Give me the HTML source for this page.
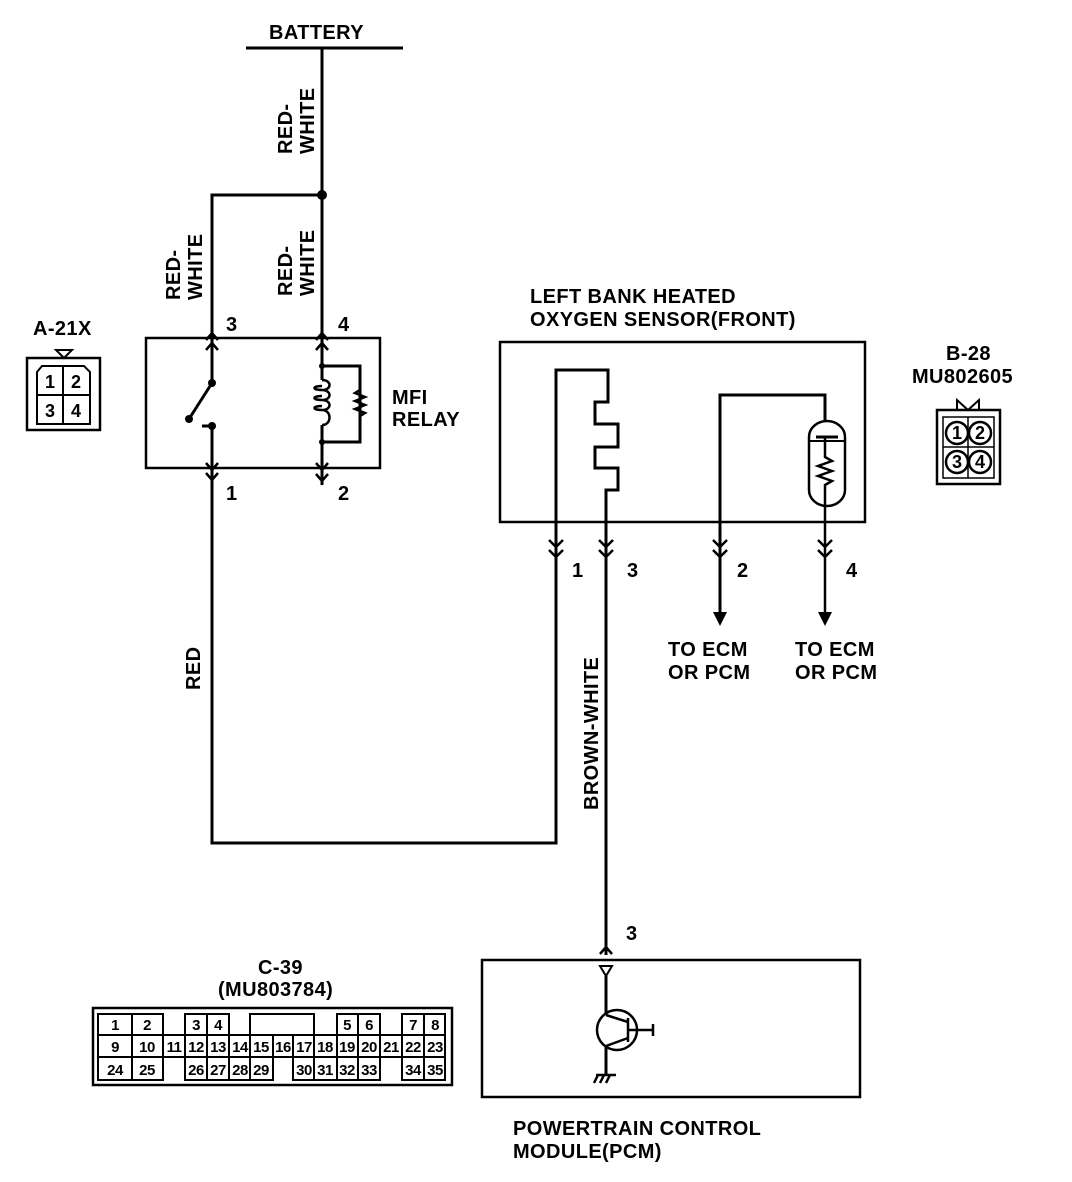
<!DOCTYPE html>
<html><head><meta charset="utf-8"><style>body{margin:0;background:#fff}svg{display:block}</style></head><body>
<svg width="1072" height="1182" viewBox="0 0 1072 1182" xmlns="http://www.w3.org/2000/svg" font-family="Liberation Sans, Arial, sans-serif" font-size="19" fill="#000">
<g stroke="#000" stroke-width="3" fill="none">
<line x1="246" y1="48" x2="403" y2="48"/>
<line x1="322" y1="48" x2="322" y2="338"/>
<polyline points="322,195 212,195 212,338"/>
<rect x="146" y="338" width="234" height="130" stroke-width="2.5"/>
<line x1="212" y1="338" x2="212" y2="383"/>
<line x1="212" y1="383" x2="189" y2="419"/>
<line x1="212" y1="426" x2="212" y2="468"/>
<line x1="202" y1="426" x2="212" y2="426"/>
<line x1="322" y1="338" x2="322" y2="380"/>
<line x1="322" y1="425" x2="322" y2="468"/>
<polyline points="322,366 360,366 360,442 322,442"/>
<path d="M322,380 c10,0 10,10 0,10 c-10,0 -10,-4 0,-4 M322,390 c10,0 10,10 0,10 c-10,0 -10,-4 0,-4 M322,400 c10,0 10,10 0,10 c-10,0 -10,-4 0,-4 M322,410 c10,0 10,15 0,15" stroke-width="2.5"/>
<polyline points="360,390 355,393 365,397 355,401 365,405 355,409 365,413 360,416" stroke-width="2.5"/>
<path d="M206,340 L212,333 L218,340 M206,350 L212,343 L218,350 M316,340 L322,333 L328,340 M316,350 L322,343 L328,350" stroke-width="2.5"/>
<path d="M206,463 L212,470 L218,463 M206,473 L212,480 L218,473 M316,463 L322,470 L328,463" stroke-width="2.5"/>
<line x1="322" y1="468" x2="322" y2="485"/>
<path d="M316,474 L322,481 L328,474" stroke-width="2.5"/>
<polyline points="212,468 212,843 556,843 556,522"/>
<rect x="500" y="342" width="365" height="180" stroke-width="2.5"/>
<polyline points="556,522 556,370 608,370 608,402 595,402 595,424 618,424 618,447 595,447 595,468 618,468 618,490 606,490 606,955"/>
<polyline points="720,620 720,395 825,395 825,422"/>
<path d="M809,437 a18,16 0 0 1 36,0 L845,490 a18,16 0 0 1 -36,0 Z" stroke-width="2.5"/>
<line x1="809" y1="441" x2="845" y2="441" stroke-width="2"/>
<line x1="816" y1="437" x2="838" y2="437" stroke-width="3"/>
<polyline points="825,437 825,457 832,461 818,466 832,471 818,476 832,481 825,485 825,620" stroke-width="2.5"/>
<path d="M549,540 L556,547 L563,540 M549,550 L556,557 L563,550 M599,540 L606,547 L613,540 M599,550 L606,557 L613,550 M713,540 L720,547 L727,540 M713,550 L720,557 L727,550 M818,540 L825,547 L832,540 M818,550 L825,557 L832,550" stroke-width="2.5"/>
<rect x="482" y="960" width="378" height="137" stroke-width="2.5"/>
<path d="M600,954 L606,947 L612,954" stroke-width="2.5"/>
<path d="M600,966 L612,966 L606,976 Z" stroke-width="2"/>
<line x1="606" y1="976" x2="606" y2="1015"/>
<circle cx="617" cy="1030" r="20" stroke-width="2.5"/>
<line x1="606" y1="1015" x2="628" y2="1022" stroke-width="2.5"/>
<line x1="628" y1="1038" x2="606" y2="1046" stroke-width="2.5"/>
<line x1="628" y1="1018" x2="628" y2="1042" stroke-width="2.5"/>
<line x1="628" y1="1030" x2="653" y2="1030" stroke-width="2.5"/>
<line x1="653" y1="1024" x2="653" y2="1036" stroke-width="2.5"/>
<line x1="606" y1="1046" x2="606" y2="1075"/>
<path d="M596,1075 L616,1075 M598,1075 L594,1083 M604,1075 L600,1083 M610,1075 L606,1083" stroke-width="2.5"/>
<rect x="27" y="358" width="73" height="72" stroke-width="2.5"/>
<path d="M37,372 L42,366 L84,366 L90,372 L90,424 L37,424 Z M37,395 L90,395 M63,366 L63,424" stroke-width="2"/>
<path d="M56,350 L72,350 L64,358 Z" stroke-width="2"/>
<rect x="937" y="410" width="63" height="74" stroke-width="2.5"/>
<rect x="943" y="417" width="51" height="61" stroke-width="1.5"/>
<line x1="968" y1="417" x2="968" y2="478" stroke-width="1.5"/>
<line x1="943" y1="447" x2="994" y2="447" stroke-width="1.5"/>
<circle cx="957" cy="433" r="11" stroke-width="2.5"/><circle cx="980" cy="433" r="11" stroke-width="2.5"/>
<circle cx="957" cy="462" r="11" stroke-width="2.5"/><circle cx="980" cy="462" r="11" stroke-width="2.5"/>
<path d="M957,410 L957,400 L968,410 L979,400 L979,410" stroke-width="2"/>
<rect x="93" y="1008" width="359" height="77" stroke-width="2.5"/>
<g stroke-width="2">
<rect x="98" y="1014" width="65" height="21"/><line x1="132" y1="1014" x2="132" y2="1080"/>
<rect x="185" y="1014" width="44" height="21"/><line x1="207" y1="1014" x2="207" y2="1035"/>
<rect x="250" y="1014" width="64" height="21"/>
<rect x="337" y="1014" width="43" height="21"/><line x1="358" y1="1014" x2="358" y2="1080"/>
<rect x="402" y="1014" width="43" height="21"/><line x1="424" y1="1014" x2="424" y2="1080"/>
<rect x="98" y="1035" width="347" height="22"/>
<path d="M163,1035V1057 M185,1035V1080 M207,1035V1080 M229,1035V1080 M250,1035V1080 M273,1035V1080 M293,1035V1080 M314,1035V1080 M337,1035V1080 M380,1035V1080 M402,1035V1080"/>
<rect x="98" y="1057" width="65" height="23"/>
<rect x="185" y="1057" width="88" height="23"/>
<rect x="293" y="1057" width="87" height="23"/>
<rect x="402" y="1057" width="43" height="23"/>
</g>
</g>
<path d="M713,612 L727,612 L720,626 Z M818,612 L832,612 L825,626 Z"/>
<circle cx="322" cy="195" r="5"/>
<circle cx="212" cy="383" r="4"/><circle cx="189" cy="419" r="4"/><circle cx="212" cy="426" r="4"/>
<circle cx="322" cy="366" r="3"/><circle cx="322" cy="442" r="3"/>
<g font-weight="bold" font-size="20" letter-spacing="0.4">
<text x="269" y="39">BATTERY</text>
<text transform="translate(292,154) rotate(-90)">RED-</text>
<text transform="translate(314,154) rotate(-90)">WHITE</text>
<text transform="translate(180,300) rotate(-90)">RED-</text>
<text transform="translate(202,300) rotate(-90)">WHITE</text>
<text transform="translate(292,296) rotate(-90)">RED-</text>
<text transform="translate(314,296) rotate(-90)">WHITE</text>
<text x="226" y="331">3</text><text x="338" y="331">4</text>
<text x="226" y="500">1</text><text x="338" y="500">2</text>
<text x="392" y="404">MFI</text><text x="392" y="426">RELAY</text>
<text transform="translate(200,690) rotate(-90)">RED</text>
<text transform="translate(598,810) rotate(-90)">BROWN-WHITE</text>
<text x="530" y="303">LEFT BANK HEATED</text>
<text x="530" y="326">OXYGEN SENSOR(FRONT)</text>
<text x="572" y="577">1</text><text x="627" y="577">3</text><text x="737" y="577">2</text><text x="846" y="577">4</text>
<text x="668" y="656">TO ECM</text><text x="668" y="679">OR PCM</text>
<text x="795" y="656">TO ECM</text><text x="795" y="679">OR PCM</text>
<text x="626" y="940">3</text>
<text x="513" y="1135">POWERTRAIN CONTROL</text>
<text x="513" y="1158">MODULE(PCM)</text>
<text x="33" y="335">A-21X</text>
<text x="946" y="360">B-28</text>
<text x="912" y="383">MU802605</text>
<text x="258" y="974">C-39</text>
<text x="218" y="996">(MU803784)</text>
</g>
<g font-size="18" font-weight="bold" text-anchor="middle">
<text x="50" y="388">1</text><text x="76" y="388">2</text><text x="50" y="417">3</text><text x="76" y="417">4</text>
<text x="957" y="439">1</text><text x="980" y="439">2</text><text x="957" y="468">3</text><text x="980" y="468">4</text>
</g>
<g font-size="15" font-weight="bold" text-anchor="middle" letter-spacing="-0.5">
<text x="115" y="1030">1</text><text x="147" y="1030">2</text><text x="196" y="1030">3</text><text x="218" y="1030">4</text><text x="347" y="1030">5</text><text x="369" y="1030">6</text><text x="413" y="1030">7</text><text x="435" y="1030">8</text>
<text x="115" y="1052">9</text><text x="147" y="1052">10</text><text x="174" y="1052">11</text><text x="196" y="1052">12</text><text x="218" y="1052">13</text><text x="240" y="1052">14</text><text x="261" y="1052">15</text><text x="283" y="1052">16</text><text x="304" y="1052">17</text><text x="325" y="1052">18</text><text x="347" y="1052">19</text><text x="369" y="1052">20</text><text x="391" y="1052">21</text><text x="413" y="1052">22</text><text x="435" y="1052">23</text>
<text x="115" y="1075">24</text><text x="147" y="1075">25</text><text x="196" y="1075">26</text><text x="218" y="1075">27</text><text x="240" y="1075">28</text><text x="261" y="1075">29</text><text x="304" y="1075">30</text><text x="325" y="1075">31</text><text x="347" y="1075">32</text><text x="369" y="1075">33</text><text x="413" y="1075">34</text><text x="435" y="1075">35</text>
</g>
</svg>
</body></html>
